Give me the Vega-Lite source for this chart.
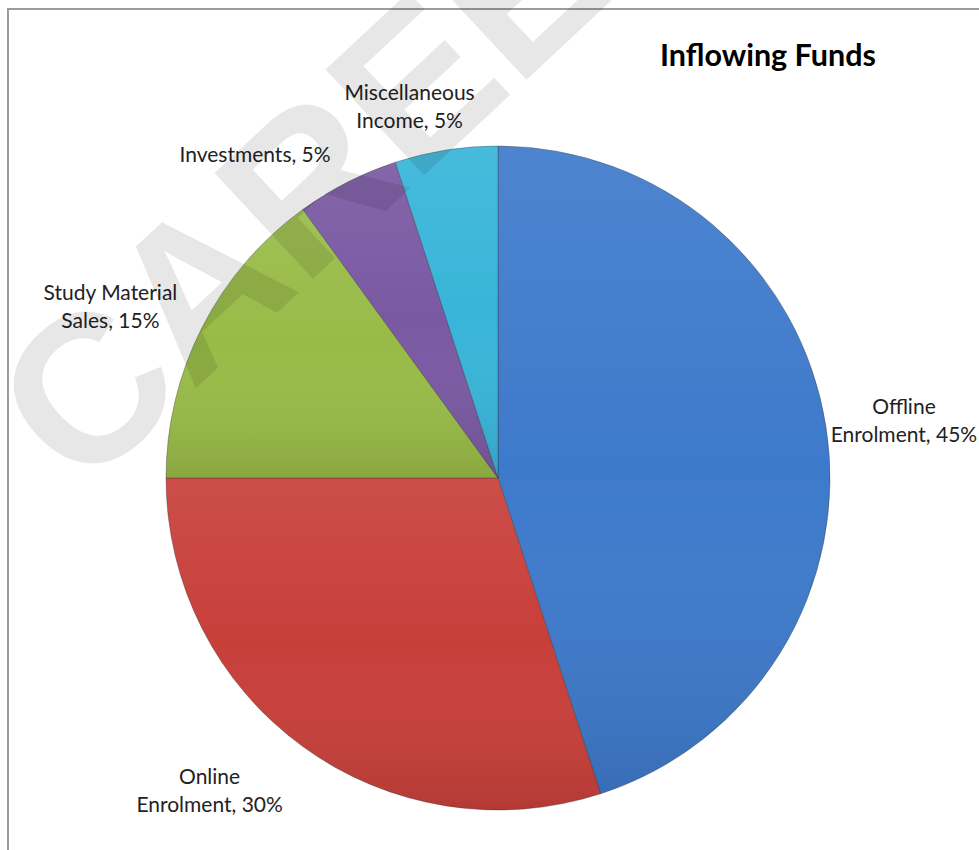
{
  "$schema": "https://vega.github.io/schema/vega-lite/v6.json",
  "autosize": {"type": "none"},
  "padding": {"left": 8, "top": 9, "right": 0, "bottom": 0},
  "width": 980,
  "height": 938,
  "background": "#ffffff",
  "config": {
    "view": {"stroke": null},
    "font": "Lato"
  },
  "data": {
    "values": [
      {"category": "Offline Enrolment", "value": 45, "order": 1, "label": "Offline\nEnrolment, 45%"},
      {"category": "Online Enrolment", "value": 30, "order": 2, "label": "Online\nEnrolment, 30%"},
      {"category": "Study Material Sales", "value": 15, "order": 3, "label": "Study Material\nSales, 15%"},
      {"category": "Investments", "value": 5, "order": 4, "label": "Investments, 5%"},
      {"category": "Miscellaneous Income", "value": 5, "order": 5, "label": "Miscellaneous\nIncome, 5%"}
    ]
  },
  "layer": [
    {
      "data": {"values": [{"frame": "chart area"}]},
      "mark": {"type": "rect", "x": 0, "y": 0, "x2": {"expr": "width"}, "y2": {"expr": "height"}, "fill": null, "stroke": "#9c9c9c", "strokeWidth": 2},
      "encoding": {}
    },
    {
      "mark": {"type": "arc", "outerRadius": 332, "stroke": "#2a2a2a", "strokeOpacity": 0.35, "strokeWidth": 1},
      "encoding": {
        "theta": {"field": "value", "type": "quantitative", "stack": true},
        "order": {"field": "order", "type": "quantitative", "sort": "ascending"},
        "color": {
          "field": "category",
          "type": "nominal",
          "scale": {
            "domain": ["Offline Enrolment", "Online Enrolment", "Study Material Sales", "Investments", "Miscellaneous Income"],
            "range": ["#3e7acb", "#c83f3a", "#98bb47", "#7a59a3", "#38b5d9"]
          },
          "legend": null
        }
      }
    },
    {
      "mark": {
        "type": "arc",
        "outerRadius": 332,
        "fill": {
          "gradient": "linear",
          "x1": 0, "y1": 0, "x2": 0, "y2": 1,
          "stops": [
            {"offset": 0, "color": "rgba(255,255,255,0.08)"},
            {"offset": 0.5, "color": "rgba(255,255,255,0)"},
            {"offset": 1, "color": "rgba(0,0,0,0.10)"}
          ]
        },
        "stroke": null
      },
      "encoding": {
        "theta": {"field": "value", "type": "quantitative", "stack": true},
        "order": {"field": "order", "type": "quantitative", "sort": "ascending"}
      }
    },
    {
      "mark": {"type": "text", "radius": 411, "dy": -6, "fontSize": 21, "lineHeight": 28, "lineBreak": "\n", "align": "center", "baseline": "middle", "color": "#222222"},
      "encoding": {
        "theta": {"field": "value", "type": "quantitative", "stack": true},
        "order": {"field": "order", "type": "quantitative", "sort": "ascending"},
        "text": {"condition": {"test": "datum.category === 'Offline Enrolment'", "field": "label"}, "value": ""}
      }
    },
    {
      "mark": {"type": "text", "radius": 426, "dx": -38, "dy": -45, "fontSize": 21, "lineHeight": 28, "lineBreak": "\n", "align": "center", "baseline": "middle", "color": "#222222"},
      "encoding": {
        "theta": {"field": "value", "type": "quantitative", "stack": true},
        "order": {"field": "order", "type": "quantitative", "sort": "ascending"},
        "text": {"condition": {"test": "datum.category === 'Online Enrolment'", "field": "label"}, "value": ""}
      }
    },
    {
      "mark": {"type": "text", "radius": 435, "dy": 13, "fontSize": 21, "lineHeight": 28, "lineBreak": "\n", "align": "center", "baseline": "middle", "color": "#222222"},
      "encoding": {
        "theta": {"field": "value", "type": "quantitative", "stack": true},
        "order": {"field": "order", "type": "quantitative", "sort": "ascending"},
        "text": {"condition": {"test": "datum.category === 'Study Material Sales'", "field": "label"}, "value": ""}
      }
    },
    {
      "mark": {"type": "text", "radius": 403, "dx": -60, "dy": 37, "fontSize": 21, "lineHeight": 28, "lineBreak": "\n", "align": "center", "baseline": "middle", "color": "#222222"},
      "encoding": {
        "theta": {"field": "value", "type": "quantitative", "stack": true},
        "order": {"field": "order", "type": "quantitative", "sort": "ascending"},
        "text": {"condition": {"test": "datum.category === 'Investments'", "field": "label"}, "value": ""}
      }
    },
    {
      "mark": {"type": "text", "radius": 380, "dx": -29, "dy": -9, "fontSize": 21, "lineHeight": 28, "lineBreak": "\n", "align": "center", "baseline": "middle", "color": "#222222"},
      "encoding": {
        "theta": {"field": "value", "type": "quantitative", "stack": true},
        "order": {"field": "order", "type": "quantitative", "sort": "ascending"},
        "text": {"condition": {"test": "datum.category === 'Miscellaneous Income'", "field": "label"}, "value": ""}
      }
    },
    {
      "data": {"values": [{"title": "Inflowing Funds"}]},
      "mark": {"type": "text", "x": 652, "y": 57, "align": "left", "baseline": "alphabetic", "fontSize": 30.5, "fontWeight": "bold", "color": "#000000"},
      "encoding": {"text": {"field": "title", "type": "nominal"}}
    },
    {
      "data": {"values": [{"mark": "CAREERS360"}]},
      "mark": {"type": "text", "x": 30, "y": 440, "angle": -43, "align": "left", "baseline": "middle", "fontSize": 210, "fontWeight": "bold", "font": "Liberation Sans", "fill": "#000000", "opacity": 0.09},
      "encoding": {"text": {"field": "mark", "type": "nominal"}}
    }
  ]
}
